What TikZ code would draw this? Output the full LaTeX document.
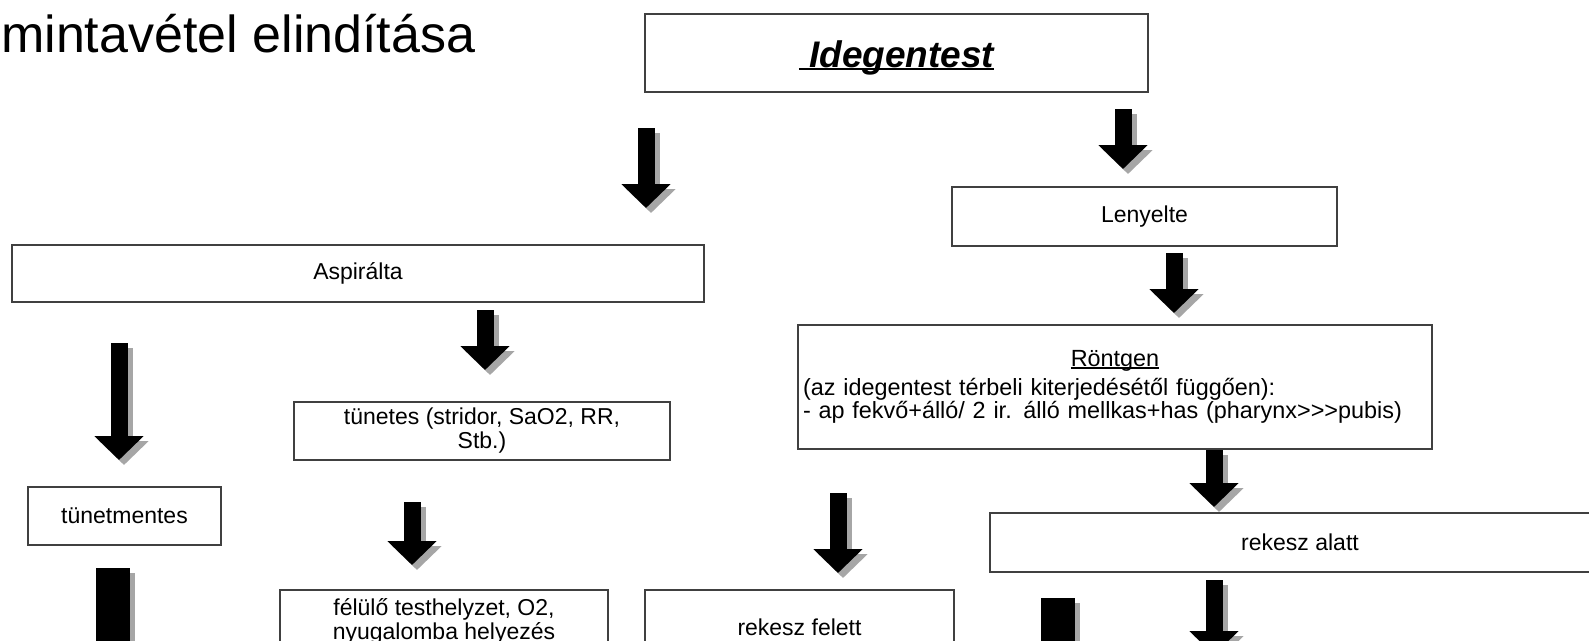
\documentclass[tikz,border=0pt]{standalone}
\usepackage{fontspec}
\setmainfont{Liberation Sans}
\usetikzlibrary{arrows.meta}
\newcommand{\ulword}[1]{\setbox0=\hbox{#1}\rlap{\rule[-0.09em]{\wd0}{0.07em}}\box0}
\begin{document}
\begin{tikzpicture}[x=1pt,y=-1pt,
    box/.style={draw=black!75, line width=2.8pt, inner sep=0pt, align=center, font=\fontsize{23}{24}\selectfont},
    blockarr/.style={line width=17pt, black, -{Triangle[length=24pt,width=48pt]}},
    blockshadow/.style={line width=17pt, black!35, -{Triangle[length=24pt,width=48pt]}},
    widearr/.style={line width=34pt, black, -{Triangle[length=45pt,width=90pt]}},
    wideshadow/.style={line width=34pt, black!35, -{Triangle[length=45pt,width=90pt]}}]
    \useasboundingbox (0,0) rectangle (1589,640);
    \fill[white] (0,0) rectangle (1589,640);
    \clip (0,0) rectangle (1589,640);
    \node[anchor=base west, inner sep=0pt, font=\fontsize{52}{60}\selectfont] (title) at (1,52) {mintavétel elindítása};
    % boxes
    \node[box, minimum width=503, minimum height=78, font=\fontsize{37}{44}\selectfont\bfseries\itshape] (ideg) at (896.5,53) {\raisebox{-14pt}[0pt][0pt]{\ulword{\ Idegentest}}};
    \node[box, minimum width=385, minimum height=59] (lenyelte) at (1144.5,216.5) {Lenyelte};
    \node[box, minimum width=692, minimum height=57] (aspiralta) at (358,273.5) {Aspirálta};
    \node[box, minimum width=634, minimum height=124, text width=624, align=left, font=\fontsize{23.4}{21.5}\selectfont] (rontgen) at (1115,387)
        {\lineskiplimit=-20pt\relax\makebox[624pt]{\ulword{Röntgen}}\\[7pt](az idegentest térbeli kiterjedésétől függően):\\- ap fekvő+álló/ 2 ir. álló mellkas+has (pharynx>{}>{}>pubis)};
    \node[box, minimum width=376, minimum height=58] (tunetes) at (482,431) {tünetes (stridor, SaO2, RR,\\Stb.)};
    \node[box, minimum width=193, minimum height=58] (tunetmentes) at (124.5,516) {tünetmentes};
    \node[box, minimum width=620, minimum height=59] (alatt) at (1300,542.5) {rekesz alatt};
    \node[box, minimum width=328, minimum height=62] (felulo) at (444,621) {félülő testhelyzet, O2,\\nyugalomba helyezés};
    \node[box, minimum width=309, minimum height=74] (felett) at (799.5,627) {rekesz felett};
    % arrows
    \foreach \n/\x/\ya/\yb in {a1/646/128/208, a2/1123/109/169, a3/1174/253/313, a4/485/310/370,
        a5/119/343/460, a6/1214/450/507, a7/838/493/573, a8/412/502/565, a11/1214/580/655}{
        \coordinate (\n-s) at (\x,\ya);
        \coordinate (\n-e) at (\x,\yb);
        \draw[blockshadow] ([shift={(5,5)}]\n-s) -- ([shift={(5,5)}]\n-e);
        \draw[blockarr] (\n-s) -- (\n-e);
    }
    \foreach \n/\x/\ya/\yb in {a9/113/568/740, a10/1058/598/740}{
        \coordinate (\n-s) at (\x,\ya);
        \coordinate (\n-e) at (\x,\yb);
        \draw[wideshadow] ([shift={(5,5)}]\n-s) -- ([shift={(5,5)}]\n-e);
        \draw[widearr] (\n-s) -- (\n-e);
    }
\end{tikzpicture}
\end{document}
